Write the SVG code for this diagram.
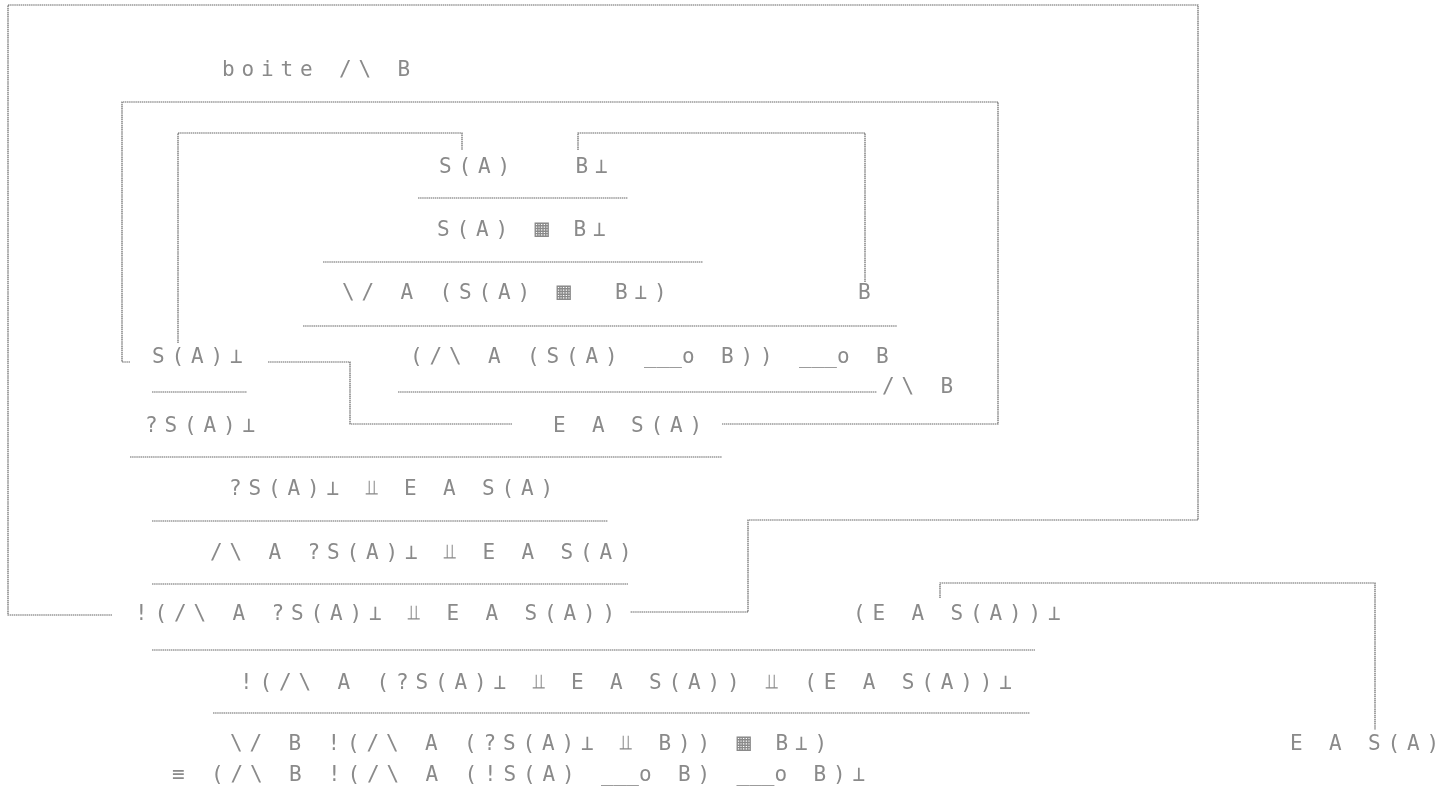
<svg xmlns="http://www.w3.org/2000/svg" width="1454" height="789" viewBox="0 0 1454 789">
  <style>
    .t { font-family: "DejaVu Sans Mono", "Liberation Mono", monospace; font-size: 21px; letter-spacing: 6.86px; fill: #8a8a8a; filter: grayscale(100%); }
    .lol { letter-spacing: 0px; }
    .sq { font-size: 24px; letter-spacing: 5px; }
    .ln { stroke: #666; stroke-width: 1.2; fill: none; stroke-dasharray: 1.5 0.6; }
  </style>
  <rect width="1454" height="789" fill="#ffffff"/>

  <!-- box frames, rules and links -->
  <g id="connectors">
    <path class="ln" d="M112,615 H8 V5 H1198 V520 H748 V612 H630"/>
    <path class="ln" d="M130,362 H122 V102 H998 V424 H722"/>
    <path class="ln" d="M268,362 H350 V424 H512"/>
    <path class="ln" d="M178,343 V133 H462 V150"/>
    <path class="ln" d="M578,150 V133 H865 V282"/>
    <path class="ln" d="M940,598 V583 H1375 V730"/>
    <path class="ln" d="M418,198 H628"/>
    <path class="ln" d="M323,262 H703"/>
    <path class="ln" d="M303,326 H897"/>
    <path class="ln" d="M152,392 H247"/>
    <path class="ln" d="M398,392 H877"/>
    <path class="ln" d="M130,457 H722"/>
    <path class="ln" d="M152,521 H608"/>
    <path class="ln" d="M152,584 H628"/>
    <path class="ln" d="M152,650 H1035"/>
    <path class="ln" d="M213,713 H1030"/>
  </g>

  <g id="title"><text class="t" x="222" y="76">boite /\ B</text></g>
  <g id="axioms"><text class="t" x="439" y="173" xml:space="preserve">S(A)   B⊥</text></g>
  <g id="tensor"><text class="t" x="437" y="236">S(A) <tspan class="sq">▦</tspan> B⊥</text></g>
  <g id="exists-a"><text class="t" x="342" y="299" xml:space="preserve">\/ A (S(A) <tspan class="sq">▦</tspan>  B⊥)</text></g>
  <g id="b-right"><text class="t" x="858" y="299">B</text></g>
  <g id="lollipop"><text class="t" x="410" y="363">(/\ A (S(A) <tspan class="lol">___</tspan>o B)) <tspan class="lol">___</tspan>o B</text></g>
  <g id="forall-b"><text class="t" x="882" y="393">/\ B</text></g>
  <g id="sa-perp"><text class="t" x="152" y="363">S(A)⊥</text></g>
  <g id="why-sa-perp"><text class="t" x="145" y="432">?S(A)⊥</text></g>
  <g id="e-a-sa"><text class="t" x="553" y="432">E A S(A)</text></g>
  <g id="par"><text class="t" x="229" y="495">?S(A)⊥ ⫫ E A S(A)</text></g>
  <g id="forall-a"><text class="t" x="210" y="559">/\ A ?S(A)⊥ ⫫ E A S(A)</text></g>
  <g id="bang"><text class="t" x="135" y="620">!(/\ A ?S(A)⊥ ⫫ E A S(A))</text></g>
  <g id="e-perp"><text class="t" x="853" y="620">(E A S(A))⊥</text></g>
  <g id="par-2"><text class="t" x="240" y="689">!(/\ A (?S(A)⊥ ⫫ E A S(A)) ⫫ (E A S(A))⊥</text></g>
  <g id="conclusion"><text class="t" x="230" y="750">\/ B !(/\ A (?S(A)⊥ ⫫ B)) <tspan class="sq">▦</tspan> B⊥)</text></g>
  <g id="equiv"><text class="t" x="172" y="781">≡ (/\ B !(/\ A (!S(A) <tspan class="lol">___</tspan>o B) <tspan class="lol">___</tspan>o B)⊥</text></g>
  <g id="e-a-sa-right"><text class="t" x="1290" y="750">E A S(A)</text></g>
</svg>
